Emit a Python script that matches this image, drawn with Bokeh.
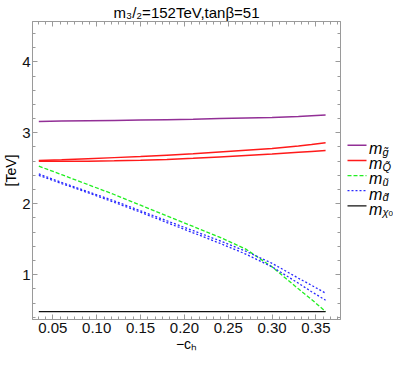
from bokeh.plotting import figure
from bokeh.layouts import row
from bokeh.models import (Range1d, LinearAxis, SingleIntervalTicker,
                          NumeralTickFormatter, Label, Title)
from bokeh.embed import file_html
from bokeh.resources import INLINE

# ---------------- data ----------------
minus_ch = [0.034, 0.06, 0.09, 0.12, 0.15, 0.18, 0.21, 0.24, 0.27, 0.30, 0.33, 0.345, 0.361]
m_gluino = [3.16, 3.165, 3.17, 3.175, 3.18, 3.185, 3.19, 3.20, 3.21, 3.215, 3.23, 3.24, 3.25]
m_Q_a    = [2.61, 2.62, 2.635, 2.65, 2.665, 2.685, 2.705, 2.73, 2.755, 2.78, 2.815, 2.835, 2.86]
m_Q_b    = [2.60, 2.598, 2.60, 2.605, 2.612, 2.625, 2.64, 2.66, 2.68, 2.70, 2.725, 2.737, 2.75]
m_u      = [2.53, 2.41, 2.27, 2.13, 1.98, 1.83, 1.68, 1.53, 1.36, 1.11, 0.80, 0.65, 0.48]
m_d_a    = [2.42, 2.30, 2.17, 2.04, 1.90, 1.76, 1.62, 1.48, 1.33, 1.16, 0.95, 0.85, 0.74]
m_d_b    = [2.40, 2.285, 2.155, 2.02, 1.88, 1.735, 1.59, 1.445, 1.29, 1.11, 0.88, 0.76, 0.64]
m_chi0   = [0.48, 0.48, 0.48, 0.48, 0.48, 0.48, 0.48, 0.48, 0.48, 0.48, 0.48, 0.48, 0.48]

x_tick_interval = 0.05
y_tick_interval = 1.0
title_text = "m\u2083/\u2082=152TeV,tan\u03b2=51"
x_label = "\u2212c\u2095"
y_label = "[TeV]"
legend_subs = ["g\u0303", "Q\u0303", "\u0169", "d\u0303", "\u03c7"]

FONT = "Liberation Sans"
AXC = "#9a9a9a"
C_G, C_Q, C_U, C_D, C_X = "#922f96", "#ff1a1a", "#22ee22", "#2a2aff", "#111111"
DASH_U, DASH_D = "4 2", "2 2"

# ---------------- layout geometry (pixels) ----------------
W_TOTAL, H_TOTAL = 393, 354
W_LEG = 51
W_MAIN = W_TOTAL - W_LEG

# ---------------- main plot ----------------
p = figure(width=W_MAIN, height=H_TOTAL,
           x_range=Range1d(0.0268, 0.378), y_range=Range1d(0.368, 4.569),
           output_backend="svg", toolbar_location=None,
           x_axis_type=None, y_axis_type=None,
           min_border_left=20, min_border_right=2,
           min_border_top=10, min_border_bottom=30)
p.outline_line_color = AXC
p.background_fill_color = "white"
p.border_fill_color = "white"

p.title = Title(text=title_text, align="center", text_font=FONT, text_font_size="15px",
                text_font_style="normal", text_color="black", standoff=2, offset=0)


def make_axis(interval, minor, labels, fmt=None, standoff=4, label=None):
    ax = LinearAxis(ticker=SingleIntervalTicker(interval=interval, num_minor_ticks=minor))
    ax.axis_line_color = AXC
    ax.major_tick_line_color = AXC
    ax.minor_tick_line_color = AXC
    ax.major_tick_in = 5
    ax.major_tick_out = 0
    ax.minor_tick_in = 3
    ax.minor_tick_out = 0
    if fmt is not None:
        ax.formatter = fmt
    if labels:
        ax.major_label_text_font = FONT
        ax.major_label_text_font_size = "15px"
        ax.major_label_text_color = "#111111"
        ax.major_label_standoff = standoff
    else:
        ax.major_label_text_font_size = "1px"
        ax.major_label_text_color = None
        ax.major_label_standoff = 0
    if label is not None:
        ax.axis_label = label
        ax.axis_label_text_font = FONT
        ax.axis_label_text_font_size = "14px"
        ax.axis_label_text_font_style = "normal"
        ax.axis_label_text_color = "black"
        ax.axis_label_standoff = 0
    return ax


p.add_layout(make_axis(x_tick_interval, 6, True, NumeralTickFormatter(format="0.00"), 3, x_label), "below")
p.add_layout(make_axis(y_tick_interval, 5, True, NumeralTickFormatter(format="0"), 2, y_label), "left")
p.add_layout(make_axis(x_tick_interval, 6, False), "above")
p.add_layout(make_axis(y_tick_interval, 5, False), "right")

p.line(minus_ch, m_gluino, line_color=C_G, line_width=1.5)
p.line(minus_ch, m_Q_a, line_color=C_Q, line_width=1.5)
p.line(minus_ch, m_Q_b, line_color=C_Q, line_width=1.5)
p.line(minus_ch, m_u, line_color=C_U, line_width=1.3, line_dash=DASH_U)
p.line(minus_ch, m_d_a, line_color=C_D, line_width=1.3, line_dash=DASH_D)
p.line(minus_ch, m_d_b, line_color=C_D, line_width=1.3, line_dash=DASH_D)
p.line(minus_ch, m_chi0, line_color=C_X, line_width=1.2)

# ---------------- legend strip ----------------
lg = figure(width=W_LEG, height=H_TOTAL, x_range=Range1d(0, W_LEG), y_range=Range1d(H_TOTAL, 0),
            output_backend="svg", toolbar_location=None, title=None,
            x_axis_type=None, y_axis_type=None,
            min_border=0, min_border_left=0, min_border_right=0,
            min_border_top=0, min_border_bottom=0)
lg.outline_line_color = None
lg.background_fill_color = "white"
lg.border_fill_color = "white"
lg.grid.visible = False


def lab(fig, text, x, y, size, style="normal"):
    fig.add_layout(Label(x=x, y=y, text=text, text_font=FONT, text_font_size=size,
                         text_font_style=style, text_align="left", text_baseline="alphabetic",
                         text_color="black"))


leg_cols = [C_G, C_Q, C_U, C_D, C_X]
leg_dash = ["solid", "solid", DASH_U, DASH_D, "solid"]
leg_w = [1.5, 1.5, 1.3, 1.3, 1.2]
leg_y0, leg_dy = 147, 18.0
for i in range(5):
    yy = leg_y0 + i * leg_dy
    lg.line([5, 24], [yy, yy], line_color=leg_cols[i], line_width=leg_w[i], line_dash=leg_dash[i])
    lab(lg, "m", 26.5, yy + 4, "16px", "italic")
    lab(lg, legend_subs[i], 40, yy + 7.5, "11px", "italic")
lab(lg, "0", 46, leg_y0 + 4 * leg_dy + 9.5, "8px")

layout = row(p, lg)
open("out.html", "w").write(file_html(layout, INLINE))
